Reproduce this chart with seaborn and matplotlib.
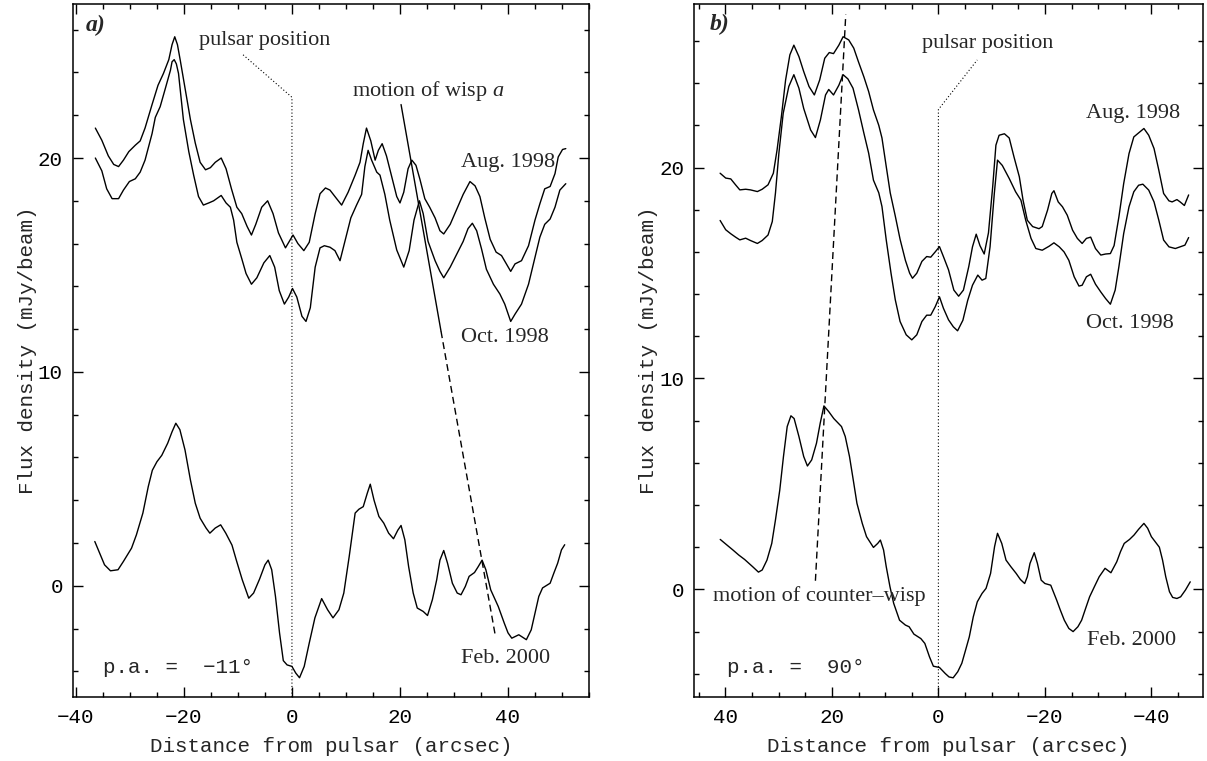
import numpy as np
import pandas as pd
import matplotlib
matplotlib.use("Agg")
import matplotlib.pyplot as plt
from matplotlib.ticker import MultipleLocator
import seaborn as sns

# ---- panel a) p.a. = -11 deg ----
a_aug_x = [-36.4, -35.2, -34.0, -33.0, -32.1, -31.2, -30.2, -29.0, -28.1, -27.2, -25.9, -24.8,
           -23.8, -22.8, -22.2, -21.7, -21.2, -20.7, -19.75, -18.8, -17.9, -17.0, -16.0, -15.1,
           -14.2, -13.1, -12.2, -11.2, -10.2, -9.3, -8.3, -7.5, -6.7, -5.6, -4.5, -3.5, -2.5,
           -1.2, -0.5, 0.2, 1.1, 2.2, 3.2, 4.3, 5.2, 6.2, 7.04, 7.96, 9.2, 10.4, 11.7, 12.6,
           13.2, 13.8, 14.6, 15.4, 16.0, 16.7, 17.5, 18.5, 19.4, 20.0, 20.7, 21.5, 22.2, 22.96,
           23.7, 24.6, 25.5, 26.5, 27.4, 28.1, 29.3, 30.5, 31.7, 32.96, 33.9, 34.8, 35.7, 36.7,
           37.8, 38.8, 39.7, 40.5, 41.3, 42.5, 43.8, 45.0, 45.9, 46.8, 47.8, 48.7, 49.3, 50.1,
           50.7]
a_aug_y = [21.4, 20.83, 20.1, 19.7, 19.6, 19.9, 20.3, 20.6, 20.8, 21.4, 22.5, 23.4,
           23.95, 24.6, 25.3, 25.67, 25.3, 24.6, 23.2, 21.8, 20.7, 19.8, 19.45, 19.55,
           19.8, 20.0, 19.5, 18.56, 17.7, 17.4, 16.8, 16.4, 16.9, 17.7, 18.0, 17.4, 16.5,
           15.8, 16.1, 16.4, 16.0, 15.67, 16.06, 17.4, 18.33, 18.6, 18.5, 18.2, 17.8, 18.4, 19.2, 19.8,
           20.67, 21.4, 20.8, 19.9, 20.36, 20.67, 20.1, 19.1, 18.2, 17.9, 18.4, 19.5, 19.9, 19.66,
           19.0, 18.1, 17.7, 17.2, 16.6, 16.45, 16.9, 17.6, 18.3, 18.9, 18.7, 18.2, 17.2, 16.2,
           15.6, 15.44, 15.05, 14.7, 15.05, 15.2, 15.9, 17.1, 17.86, 18.56, 18.67, 19.27, 20.05, 20.4,
           20.44]

a_oct_x = [-36.4, -35.2, -34.3, -33.3, -32.1, -31.2, -30.1, -29.0, -28.1, -27.2, -25.9, -25.3,
           -24.4, -23.5, -22.5, -22.2, -21.8, -21.4, -21.0, -20.1, -19.1, -18.2, -17.3, -16.4,
           -15.4, -14.5, -13.1, -12.2, -11.4, -10.8, -10.2, -9.3, -8.5, -7.5, -6.5, -5.2, -4.1,
           -3.2, -2.35, -1.4, -0.6, 0.1, 0.9, 1.85, 2.6, 3.4, 4.3, 5.2, 6.0, 7.04, 7.96, 8.9,
           9.8, 10.9, 11.96, 12.9, 13.5, 14.1, 14.75, 15.7, 16.3, 17.2, 18.1, 19.4, 20.7, 21.7,
           22.6, 23.6, 24.3, 25.2, 26.5, 27.4, 28.1, 29.3, 30.5, 31.7, 32.6, 33.4, 34.2, 35.1,
           36.0, 37.3, 38.5, 39.4, 40.5, 41.3, 42.5, 43.8, 45.0, 45.9, 46.8, 47.8, 48.7, 49.6,
           50.7]
a_oct_y = [20.0, 19.4, 18.56, 18.1, 18.1, 18.5, 18.9, 19.03, 19.34, 19.9, 21.14, 21.9,
           22.4, 23.2, 24.1, 24.5, 24.6, 24.4, 23.95, 21.8, 20.3, 19.2, 18.2, 17.8,
           17.9, 18.0, 18.25, 17.9, 17.7, 17.1, 16.06, 15.3, 14.6, 14.1, 14.4, 15.1, 15.44,
           14.9, 13.8, 13.17, 13.5, 13.9, 13.5, 12.6, 12.36, 13.0, 14.9, 15.8, 15.9, 15.83, 15.67, 15.2,
           16.1, 17.2, 17.8, 18.3, 19.6, 20.36, 19.9, 19.34, 19.2, 18.3, 17.1, 15.7, 14.9, 15.67,
           17.1, 18.0, 17.4, 16.1, 15.2, 14.7, 14.4, 14.9, 15.5, 16.1, 16.7, 16.95, 16.6, 15.75,
           14.8, 14.1, 13.64, 13.17, 12.36, 12.7, 13.17, 14.1, 15.36, 16.3, 16.9, 17.15, 17.7, 18.5,
           18.8]

a_feb_x = [-36.5, -34.7, -33.6, -32.2, -31.2, -29.7, -28.8, -27.6, -26.6, -25.85, -25.0, -24.1,
           -23.0, -22.2, -21.5, -20.75, -19.8, -18.8, -17.9, -17.0, -15.9, -15.2, -14.2, -13.2,
           -12.25, -11.1, -10.3, -9.2, -8.0, -7.1, -6.0, -5.0, -4.4, -3.75, -3.05, -2.3, -1.6,
           -0.9, 0.0, 0.7, 1.4, 2.27, 3.2, 4.25, 5.5, 6.6, 7.6, 8.7, 9.6, 10.6, 11.7, 12.4,
           13.2, 13.95, 14.5, 15.2, 16.1, 17.0, 17.9, 18.8, 19.6, 20.2, 20.9, 21.6, 22.45, 23.2,
           24.3, 25.1, 26.0, 26.8, 27.4, 28.1, 28.8, 29.7, 30.6, 31.3, 32.1, 32.8, 33.8, 34.5,
           35.2, 35.9, 36.8, 38.2, 39.3, 40.0, 40.7, 42.0, 43.4, 44.3, 45.0, 45.7, 46.4, 47.8,
           48.5, 49.2, 49.9, 50.5]
a_feb_y = [2.07, 0.98, 0.7, 0.75, 1.14, 1.76, 2.38, 3.4, 4.64, 5.4, 5.8, 6.1,
           6.67, 7.2, 7.6, 7.3, 6.35, 4.95, 3.86, 3.16, 2.7, 2.46, 2.7, 2.85,
           2.46, 1.9, 1.2, 0.28, -0.58, -0.34, 0.31, 0.98, 1.2, 0.75, -0.5, -2.2, -3.5,
           -3.7, -3.77, -4.08, -4.3, -3.77, -2.68, -1.5, -0.6, -1.12, -1.5, -1.12, -0.34, 1.37, 3.4, 3.58,
           3.7, 4.33, 4.75, 4.0, 3.24, 2.93, 2.46, 2.2, 2.6, 2.82, 2.15, 0.9, -0.34, -1.04,
           -1.2, -1.39, -0.65, 0.28, 1.2, 1.65, 1.06, 0.12, -0.34, -0.42, -0.03, 0.44, 0.62, 0.9,
           1.2, 0.75, -0.19, -0.97, -1.74, -2.2, -2.45, -2.29, -2.52, -2.06, -1.28, -0.5, -0.1, 0.12,
           0.6, 1.06, 1.68, 1.92]

# ---- panel b) p.a. = 90 deg ----
b_aug_x = [41.0, 39.95, 39.0, 38.1, 37.3, 36.2, 35.3, 34.0, 33.1, 32.0, 31.0, 30.3, 29.5, 28.7,
           27.9, 27.15, 26.2, 25.3, 24.3, 23.3, 22.3, 21.35, 20.5, 19.7, 18.7, 17.9, 16.85, 15.9,
           15.0, 14.0, 13.1, 12.2, 11.2, 10.6, 9.8, 9.05, 8.1, 7.2, 6.2, 5.4, 4.87, 4.06, 3.1,
           2.2, 1.44, 0.6, -0.2, -0.94, -1.9, -2.9, -3.8, -4.7, -5.7, -6.4, -7.1, -7.8, -8.6,
           -9.4, -10.2, -10.8, -11.4, -12.4, -13.3, -14.2, -15.2, -15.9, -16.7, -17.7, -18.9,
           -19.5, -20.5, -21.3, -21.7, -22.5, -23.3, -24.2, -25.2, -26.1, -27.0, -27.8, -28.6,
           -29.5, -30.5, -31.4, -32.3, -33.0, -33.9, -34.8, -35.8, -36.7, -37.6, -38.6, -39.5,
           -40.5, -41.4, -42.3, -43.3, -43.9, -44.8, -45.4, -46.2, -47.0]
b_aug_y = [19.73, 19.5, 19.46, 19.18, 18.94, 18.97, 18.94, 18.86, 18.97, 19.18, 19.73, 20.84, 22.4, 24.15,
           25.34, 25.8, 25.26, 24.55, 23.84, 23.44, 24.15, 25.18, 25.45, 25.4, 25.8, 26.2, 26.05, 25.66,
           25.0, 24.3, 23.6, 22.73, 22.0, 21.4, 20.05, 18.8, 17.7, 16.6, 15.6, 14.99, 14.75, 14.99, 15.55,
           15.78, 15.75, 16.0, 16.25, 15.78, 15.15, 14.19, 13.9, 14.19, 15.3, 16.24, 16.84, 16.3, 15.9,
           16.9, 19.1, 21.06, 21.53, 21.6, 21.4, 20.5, 19.56, 18.45, 17.5, 17.2, 17.1,
           17.2, 17.98, 18.77, 18.9, 18.37, 18.14, 17.74, 17.03, 16.64, 16.4, 16.64, 16.7,
           16.16, 15.85, 15.9, 15.92, 16.3, 17.66, 19.24, 20.66, 21.45, 21.64, 21.85, 21.53,
           20.9, 19.87, 18.77, 18.42, 18.37, 18.48, 18.37, 18.2, 18.7]

b_oct_x = [41.0, 39.95, 39.0, 38.1, 37.3, 36.2, 35.3, 34.0, 33.1, 32.0, 31.2, 30.6, 29.96, 29.15,
           28.1, 27.15, 26.2, 25.3, 24.0, 23.1, 22.16, 21.2, 20.6, 19.7, 18.7, 17.9, 17.0, 16.04,
           15.0, 14.0, 13.1, 12.2, 11.2, 10.6, 9.8, 8.9, 8.1, 7.2, 6.05, 5.0, 4.06, 3.1, 2.2,
           1.44, 0.6, -0.2, -0.94, -1.9, -2.8, -3.6, -4.6, -5.5, -6.4, -7.4, -8.2, -8.9, -9.7,
           -10.5, -11.1, -12.0, -13.3, -14.5, -15.5, -16.4, -17.4, -18.3, -19.5, -20.8, -21.7,
           -22.7, -23.6, -24.5, -25.5, -26.4, -27.0, -27.8, -28.6, -29.5, -30.5, -31.4, -32.3,
           -33.2, -33.9, -34.8, -35.8, -36.7, -37.6, -38.4, -39.5, -40.5, -41.4, -42.3, -43.3,
           -44.5, -45.4, -46.3, -47.0]
b_oct_y = [17.49, 17.05, 16.86, 16.7, 16.57, 16.65, 16.54, 16.4, 16.54, 16.8, 17.44, 18.8, 20.68, 22.57,
           23.84, 24.4, 23.76, 22.8, 21.78, 21.42, 22.26, 23.44, 23.7, 23.44, 23.9, 24.4, 24.2, 23.76,
           22.73, 21.63, 20.68, 19.4, 18.8, 18.15, 16.57, 14.99, 13.73, 12.7, 12.07, 11.83, 12.07, 12.7, 13.0,
           13.0, 13.4, 13.87, 13.33, 12.78, 12.45, 12.26, 12.76, 13.7, 14.42, 14.9, 14.66, 14.74, 16.24,
           18.77, 20.35, 20.1, 19.48, 18.85, 18.45, 17.5, 16.64, 16.16, 16.08, 16.27, 16.43,
           16.24, 16.0, 15.6, 14.82, 14.38, 14.42, 14.82, 14.94, 14.47, 14.1, 13.79, 13.52,
           14.19, 15.3, 16.87, 18.14, 18.85, 19.16, 19.21, 18.93, 18.37, 17.5, 16.56, 16.24,
           16.16, 16.24, 16.32, 16.68]

b_feb_x = [40.98, 39.7, 38.6, 37.5, 36.4, 34.9, 33.8, 33.1, 32.2, 31.3, 30.6, 29.8, 29.1, 28.4,
           27.7, 27.1, 26.2, 25.3, 24.6, 23.8, 22.9, 22.2, 21.5, 20.6, 19.65, 18.2, 17.5, 16.7,
           16.0, 15.3, 14.3, 13.5, 12.2, 11.4, 10.9, 10.3, 9.8, 9.1, 8.4, 7.3, 6.2, 5.5, 4.6,
           3.3, 2.55, 1.67, 0.95, -0.2, -1.3, -2.0, -2.77, -3.64, -4.4, -5.1, -5.8, -6.55, -7.3,
           -8.2, -8.95, -9.8, -10.55, -11.1, -11.9, -12.7, -13.6, -14.6, -15.4, -16.2, -16.7,
           -17.2, -18.0, -18.6, -19.3, -20.0, -21.1, -22.2, -22.9, -23.65, -24.5, -25.3, -26.2,
           -26.9, -27.65, -28.4, -29.3, -30.2, -31.3, -32.4, -33.5, -34.2, -34.9, -35.9, -36.75,
           -37.6, -38.6, -39.3, -40.0, -41.5, -42.1, -42.7, -43.4, -44.0, -44.8, -45.5, -46.4,
           -47.3]
b_feb_y = [2.37, 2.1, 1.87, 1.63, 1.42, 1.08, 0.82, 0.92, 1.39, 2.18, 3.3, 4.7, 6.3, 7.72,
           8.23, 8.1, 7.25, 6.3, 5.85, 6.14, 6.93, 7.88, 8.7, 8.43, 8.1, 7.72, 7.25, 6.3,
           5.2, 4.08, 3.13, 2.5, 1.99, 2.18, 2.34, 1.87, 1.08, 0.13, -0.66, -1.46, -1.69, -1.77, -2.12,
           -2.33, -2.56, -3.2, -3.64, -3.7, -3.99, -4.15, -4.19, -3.9, -3.5, -2.88, -2.25, -1.3, -0.59,
           -0.19, 0.05, 0.76, 2.03, 2.66, 2.18, 1.39, 1.08, 0.76, 0.47, 0.28, 0.6,
           1.23, 1.74, 1.23, 0.44, 0.28, 0.2, -0.5, -0.98, -1.46, -1.85, -2.0, -1.77,
           -1.46, -0.9, -0.35, 0.13, 0.6, 1.0, 0.79, 1.31, 1.79, 2.18, 2.37, 2.58,
           2.85, 3.13, 2.9, 2.5, 2.0, 1.39, 0.6, -0.11, -0.38, -0.43, -0.35, -0.03,
           0.36]

epochs = ["Aug. 1998", "Oct. 1998", "Feb. 2000"]

# annotation guide lines (data units)
a_pulsar_x = [0.0, 0.0, -9.2]
a_pulsar_y = [-5.2, 22.84, 24.86]
a_wisp_solid_x = [20.2, 27.6]
a_wisp_solid_y = [22.5, 11.9]
a_wisp_dash_x = [27.6, 37.7]
a_wisp_dash_y = [11.9, -2.4]
b_pulsar_x = [0.0, 0.0, -7.3]
b_pulsar_y = [-5.1, 22.75, 25.1]
b_wisp_x = [23.1, 17.4]
b_wisp_y = [0.41, 27.25]

sns.set_theme(style="ticks")
plt.rcParams["font.family"] = ["Liberation Mono", "DejaVu Sans Mono"]
plt.rcParams["mathtext.fontset"] = "custom"
plt.rcParams["mathtext.rm"] = "Liberation Serif"
plt.rcParams["mathtext.it"] = "Liberation Serif:italic"
plt.rcParams["axes.linewidth"] = 1.1
plt.rcParams["axes.edgecolor"] = "black"

fig = plt.figure(figsize=(12.07, 7.61), dpi=100)
ax_a = fig.add_axes([0.0602, 0.0841, 0.4278, 0.9106])
ax_b = fig.add_axes([0.575, 0.0841, 0.4217, 0.9106])

serif = "Liberation Serif"


def draw_curves(ax, xs, ys):
    rows = []
    for name, x, y in zip(epochs, xs, ys):
        rows.append(pd.DataFrame({"x": x, "flux": y, "epoch": name}))
    df = pd.concat(rows, ignore_index=True)
    for name in epochs:
        sub = df[df["epoch"] == name]
        sns.lineplot(data=sub, x="x", y="flux", ax=ax, color="black", lw=1.0,
                     estimator=None, sort=False)


def style_axes(ax, xlim, ylim):
    ax.set_xlim(*xlim)
    ax.set_ylim(*ylim)
    ax.xaxis.set_major_locator(MultipleLocator(20))
    ax.xaxis.set_minor_locator(MultipleLocator(5))
    ax.yaxis.set_major_locator(MultipleLocator(10))
    ax.yaxis.set_minor_locator(MultipleLocator(2))
    ax.tick_params(which="both", direction="in", top=True, right=True,
                   colors="black", width=1.0, labelsize=15)
    ax.tick_params(which="major", length=7)
    ax.tick_params(which="minor", length=3.5)
    ax.tick_params(axis="x", pad=8)
    ax.tick_params(axis="y", pad=7)
    ax.set_xlabel("Distance from pulsar (arcsec)", fontsize=15, labelpad=7)
    ax.set_ylabel("Flux density (mJy/beam)", fontsize=15, labelpad=1)
    for s in ax.spines.values():
        s.set_visible(True)


# ---- panel a ----
draw_curves(ax_a, [a_aug_x, a_oct_x, a_feb_x], [a_aug_y, a_oct_y, a_feb_y])
ax_a.plot(a_pulsar_x, a_pulsar_y, color="black", lw=0.8, ls=(0, (1, 2)))
ax_a.plot(a_wisp_solid_x, a_wisp_solid_y, color="black", lw=1.0)
ax_a.plot(a_wisp_dash_x, a_wisp_dash_y, color="black", lw=1.0, ls=(0, (5, 3)))
style_axes(ax_a, (-40.6, 55.0), (-5.2, 27.2))
ax_a.text(-38.2, 26.2, "a)", fontsize=17, family=serif, fontweight="bold",
          fontstyle="italic", va="center", ha="left")
ax_a.text(-5.0, 25.5, "pulsar position", fontsize=16, family=serif, ha="center", va="center")
ax_a.text(25.3, 23.15, "motion of wisp $a$", fontsize=16, family=serif, ha="center", va="center")
ax_a.text(40.0, 19.8, "Aug. 1998", fontsize=16, family=serif, ha="center", va="center")
ax_a.text(39.5, 11.6, "Oct. 1998", fontsize=16, family=serif, ha="center", va="center")
ax_a.text(39.5, -3.38, "Feb. 2000", fontsize=16, family=serif, ha="center", va="center")
ax_a.text(-35.0, -3.8, "p.a. =  \u221211\u00b0", fontsize=15, ha="left", va="center")

# ---- panel b ----
draw_curves(ax_b, [b_aug_x, b_oct_x, b_feb_x], [b_aug_y, b_oct_y, b_feb_y])
ax_b.plot(b_pulsar_x, b_pulsar_y, color="black", lw=0.8, ls=(0, (1, 2)))
ax_b.plot(b_wisp_x, b_wisp_y, color="black", lw=1.0, ls=(0, (5, 3)))
style_axes(ax_b, (45.9, -49.7), (-5.1, 27.75))
ax_b.text(42.9, 26.8, "b)", fontsize=17, family=serif, fontweight="bold",
          fontstyle="italic", va="center", ha="left")
ax_b.text(-9.2, 25.9, "pulsar position", fontsize=16, family=serif, ha="center", va="center")
ax_b.text(42.3, -0.32, "motion of counter\u2013wisp", fontsize=16, family=serif,
          ha="left", va="center")
ax_b.text(-36.6, 22.58, "Aug. 1998", fontsize=16, family=serif, ha="center", va="center")
ax_b.text(-36.0, 12.6, "Oct. 1998", fontsize=16, family=serif, ha="center", va="center")
ax_b.text(-36.3, -2.4, "Feb. 2000", fontsize=16, family=serif, ha="center", va="center")
ax_b.text(39.7, -3.7, "p.a. =  90\u00b0", fontsize=15, ha="left", va="center")

fig.savefig("out.png", dpi=100, facecolor="white")
